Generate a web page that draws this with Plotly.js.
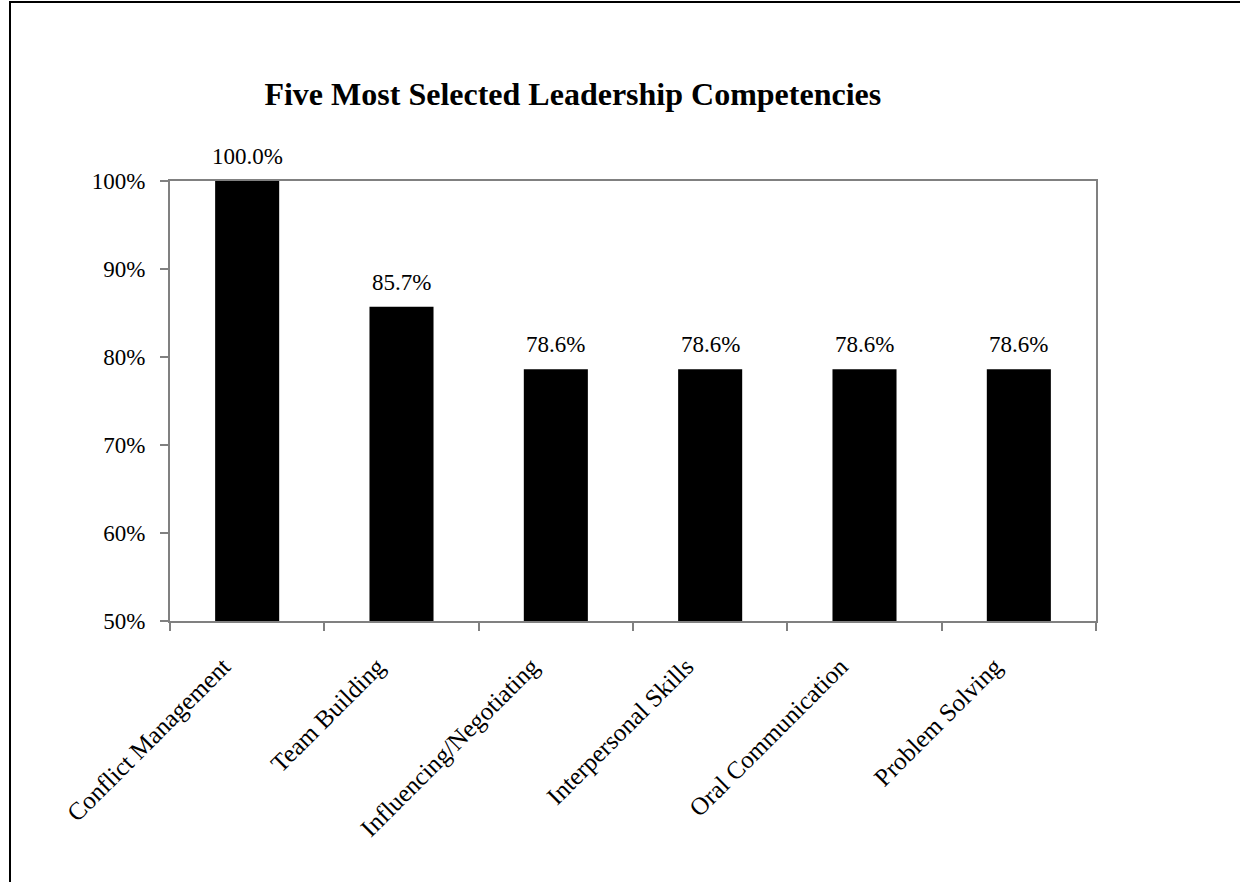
<!DOCTYPE html>
<html>
<head>
<meta charset="utf-8">
<script src="https://cdn.plot.ly/plotly-3.0.1.min.js"></script>
<style>
  html, body { margin: 0; padding: 0; background: #fff; overflow: hidden; }
  #wrap { position: relative; width: 1240px; height: 882px; overflow: hidden; }
  #chart { width: 1240px; height: 882px; }
  #frame { position: absolute; left: 9px; top: 1px; width: 1300px; height: 1000px;
           border-left: 2px solid #000; border-top: 2px solid #000; pointer-events: none; }
</style>
</head>
<body>
<div id="wrap">
  <div id="chart"></div>
  <div id="frame"></div>
</div>
<script>
const categories = ["Conflict Management", "Team Building", "Influencing/Negotiating",
                    "Interpersonal Skills", "Oral Communication", "Problem Solving"];
const values = [1.000, 0.857, 0.786, 0.786, 0.786, 0.786];
const valueLabels = ["100.0%", "85.7%", "78.6%", "78.6%", "78.6%", "78.6%"];
const yTickVals = [0.5, 0.6, 0.7, 0.8, 0.9, 1.0];
const yTickText = ["50%", "60%", "70%", "80%", "90%", "100%"];
const chartTitle = "Five Most Selected Leadership Competencies";

const font = "'Liberation Serif', 'Times New Roman', serif";

const trace = {
  type: "bar",
  x: categories,
  y: values,
  marker: { color: "#000000", line: { width: 0 } },
  hoverinfo: "skip"
};

const annotations = categories.map((c, i) => ({
  x: c, y: values[i], xref: "x", yref: "y",
  text: valueLabels[i], showarrow: false,
  yanchor: "bottom", yshift: 10,
  font: { family: font, size: 23, color: "#000" }
}));

const layout = {
  width: 1240, height: 882,
  paper_bgcolor: "#ffffff", plot_bgcolor: "#ffffff",
  margin: { l: 170, r: 144, t: 181, b: 261 },
  showlegend: false,
  bargap: 0.585,
  title: {
    text: "<b>" + chartTitle + "</b>",
    font: { family: font, size: 32, color: "#000" },
    x: 0.435, xanchor: "center", xref: "paper",
    y: 1 - 94 / 882, yanchor: "middle", yref: "container"
  },
  xaxis: {
    type: "category",
    tickangle: -45,
    tickson: "boundaries",
    ticks: "outside", ticklen: 8, tickcolor: "#808080", tickwidth: 2,
    showline: true, linecolor: "#808080", linewidth: 2,
    mirror: true,
    showgrid: false, zeroline: false,
    tickfont: { family: font, size: 25, color: "#000" },
    ticklabelstandoff: 19,
    ticklabelshift: -24,
    automargin: false
  },
  yaxis: {
    range: [0.5, 1.0],
    tickvals: yTickVals,
    ticktext: yTickText,
    ticks: "outside", ticklen: 8, tickcolor: "#808080", tickwidth: 2,
    showline: true, linecolor: "#808080", linewidth: 2,
    mirror: true,
    showgrid: false, zeroline: false,
    tickfont: { family: font, size: 23, color: "#000" },
    ticklabelstandoff: 10,
    automargin: false
  },
  annotations: annotations,
  font: { family: font, color: "#000" }
};

Plotly.newPlot("chart", [trace], layout, { displayModeBar: false, staticPlot: true });
</script>
</body>
</html>
